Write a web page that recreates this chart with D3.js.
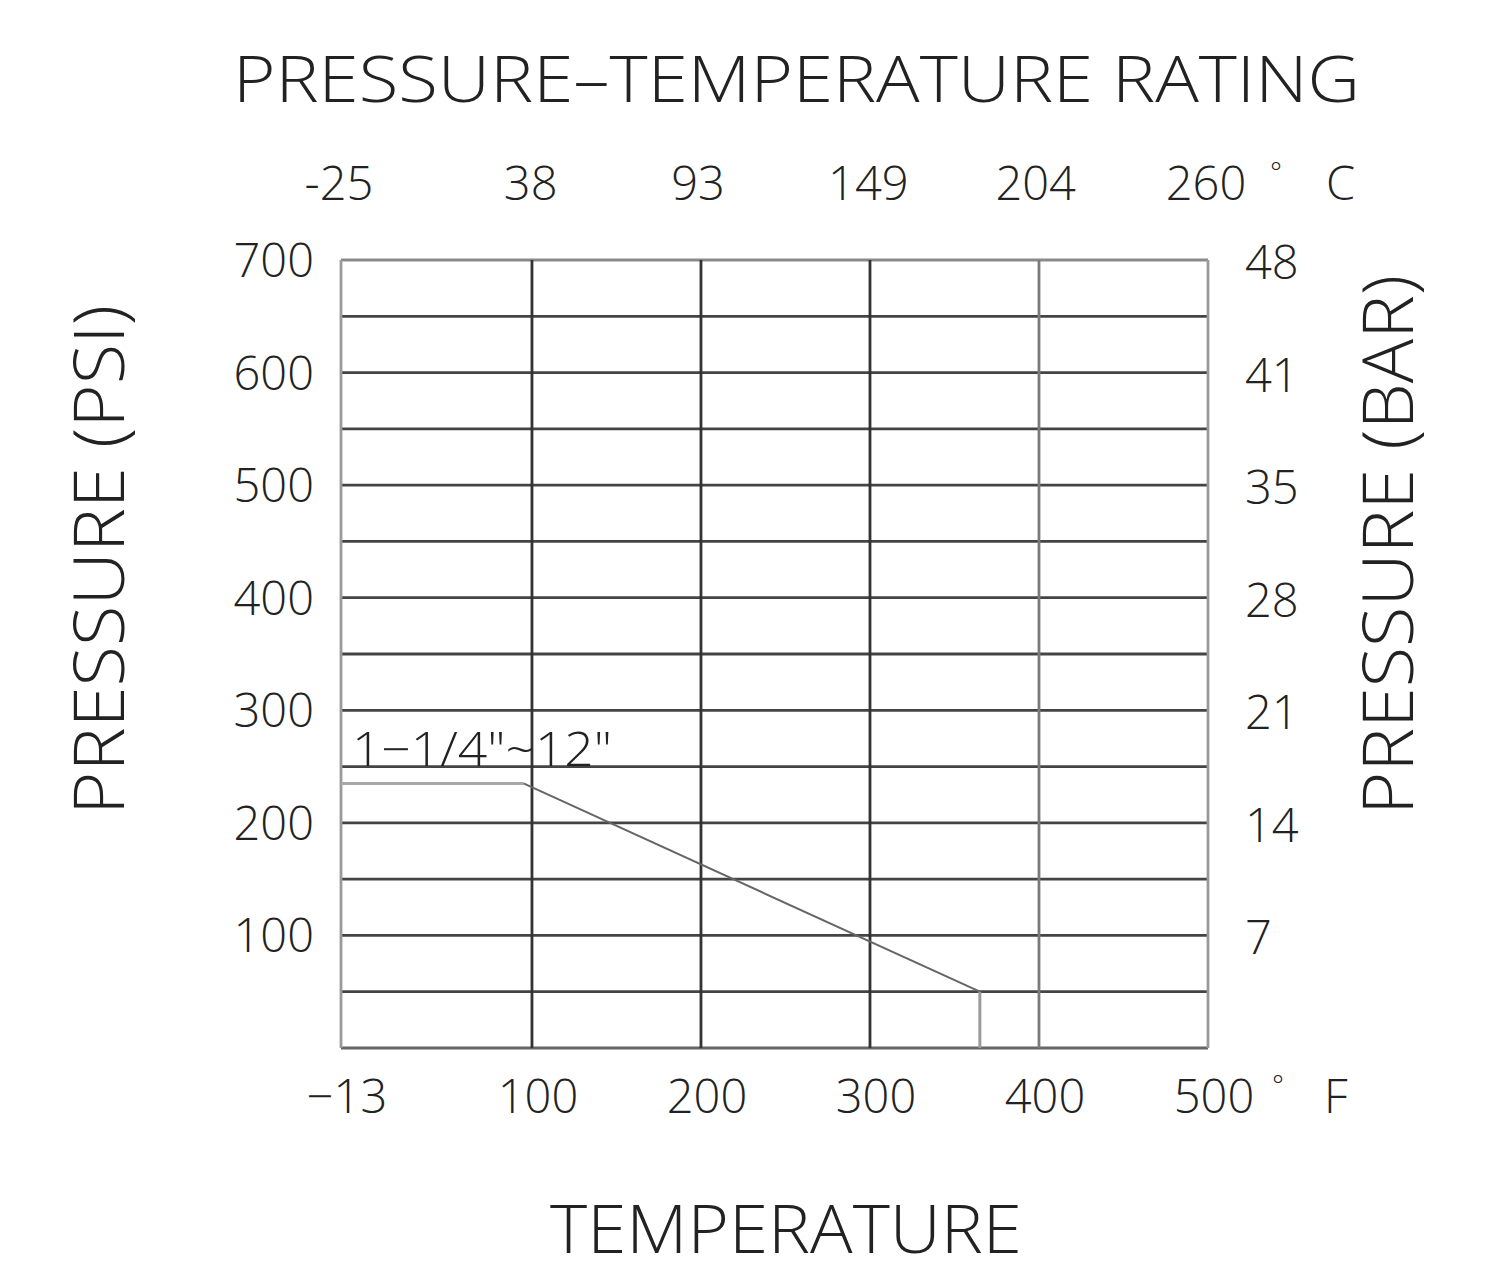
<!DOCTYPE html>
<html>
<head>
<meta charset="utf-8">
<script src="https://cdn.jsdelivr.net/npm/d3@7"></script>
<style>
  body { margin: 0; background: #fff; }
  text { font-family: "Open Sans", "DejaVu Sans", sans-serif; font-weight: 300; fill: #222; }
</style>
</head>
<body>
<svg id="chart" width="1490" height="1277"></svg>
<script>
// chart values
const fTicks = [-13, 100, 200, 300, 400, 500];          // bottom axis, deg F
const fLabels = ["\u221213", "100", "200", "300", "400", "500"];
const cTicks = [-25, 38, 93, 149, 204, 260];            // top axis, deg C
const psiTicks = [100, 200, 300, 400, 500, 600, 700];   // left axis
const barLabels = ["7", "14", "21", "28", "35", "41", "48"]; // right axis
const psiGrid = [50, 100, 150, 200, 250, 300, 350, 400, 450, 500, 550, 600, 650, 700];
const ratingTemp = [-13, 95, 365, 365];   // deg F
const ratingPsi = [235, 235, 50, 0];      // psi
const ratingLabel = "1\u22121/4\"~12\"";

const svg = d3.select("#chart");

const x = d3.scaleLinear().domain([-13, 500]).range([341, 1208]);
const y = d3.scaleLinear().domain([0, 700]).range([1048, 260]);
const cToF = c => c * 9 / 5 + 32;

// horizontal grid
svg.append("g").selectAll("line")
  .data(psiGrid)
  .join("line")
  .attr("x1", x(-13)).attr("x2", x(500))
  .attr("y1", d => y(d)).attr("y2", d => y(d))
  .attr("stroke", d => d === 700 ? "#8a8a8a" : "#444")
  .attr("stroke-width", 2.8);

// bottom border
svg.append("line")
  .attr("x1", x(-13)).attr("x2", x(500))
  .attr("y1", y(0)).attr("y2", y(0))
  .attr("stroke", "#666").attr("stroke-width", 2.8);

// vertical grid
svg.append("g").selectAll("line")
  .data(fTicks)
  .join("line")
  .attr("x1", d => x(d)).attr("x2", d => x(d))
  .attr("y1", y(0)).attr("y2", y(700))
  .attr("stroke", d => (d === -13 || d === 500) ? "#9a9a9a" : (d === 400 ? "#7a7a7a" : "#333"))
  .attr("stroke-width", 2.8);

// rating curve
const line = d3.line().x(d => x(d[0])).y(d => y(d[1]));
const pts = ratingTemp.map((t, i) => [t, ratingPsi[i]]);
svg.append("path")
  .attr("d", line(pts.slice(0, 2)))
  .attr("fill", "none").attr("stroke", "#a8a8a8").attr("stroke-width", 3);
svg.append("path")
  .attr("d", line(pts.slice(1, 3)))
  .attr("fill", "none").attr("stroke", "#666").attr("stroke-width", 2);
svg.append("path")
  .attr("d", line(pts.slice(2)))
  .attr("fill", "none").attr("stroke", "#9a9a9a").attr("stroke-width", 3);

svg.append("text")
  .attr("x", 352).attr("y", 766)
  .attr("font-size", 47)
  .attr("textLength", 260).attr("lengthAdjust", "spacingAndGlyphs")
  .text(ratingLabel);

// left axis labels (psi)
svg.append("g").selectAll("text")
  .data(psiTicks)
  .join("text")
  .attr("x", 314)
  .attr("y", d => y(d) + 17)
  .attr("text-anchor", "end")
  .attr("font-size", 47)
  .text(d => d);

// right axis labels (bar)
svg.append("g").selectAll("text")
  .data(psiTicks)
  .join("text")
  .attr("x", 1245)
  .attr("y", d => y(d) + 19)
  .attr("font-size", 47)
  .text((d, i) => barLabels[i]);

// bottom axis labels (F)
svg.append("g").selectAll("text")
  .data(fTicks)
  .join("text")
  .attr("x", d => x(d) + 6)
  .attr("y", 1113)
  .attr("text-anchor", "middle")
  .attr("font-size", 47)
  .text((d, i) => fLabels[i]);

// top axis labels (C)
svg.append("g").selectAll("text")
  .data(cTicks)
  .join("text")
  .attr("x", d => x(cToF(d)) - 2)
  .attr("y", 200)
  .attr("text-anchor", "middle")
  .attr("font-size", 47)
  .text(d => d);

// units
svg.append("text").attr("x", 1270).attr("y", 182).attr("font-size", 28).text("\u00b0");
svg.append("text").attr("x", 1326).attr("y", 200).attr("font-size", 47).text("C");
svg.append("text").attr("x", 1272).attr("y", 1095).attr("font-size", 28).text("\u00b0");
svg.append("text").attr("x", 1324).attr("y", 1113).attr("font-size", 47).text("F");

// titles
svg.append("text")
  .attr("x", 233).attr("y", 102)
  .attr("font-size", 65)
  .attr("textLength", 1127).attr("lengthAdjust", "spacingAndGlyphs")
  .text("PRESSURE\u2013TEMPERATURE RATING");

svg.append("text")
  .attr("x", 550).attr("y", 1253)
  .attr("font-size", 66)
  .attr("textLength", 472).attr("lengthAdjust", "spacingAndGlyphs")
  .text("TEMPERATURE");

svg.append("text")
  .attr("transform", "translate(124,815) rotate(-90)")
  .attr("font-size", 70)
  .attr("textLength", 510).attr("lengthAdjust", "spacingAndGlyphs")
  .text("PRESSURE (PSI)");

svg.append("text")
  .attr("transform", "translate(1413,815) rotate(-90)")
  .attr("font-size", 70)
  .attr("textLength", 540).attr("lengthAdjust", "spacingAndGlyphs")
  .text("PRESSURE (BAR)");
</script>
</body>
</html>
